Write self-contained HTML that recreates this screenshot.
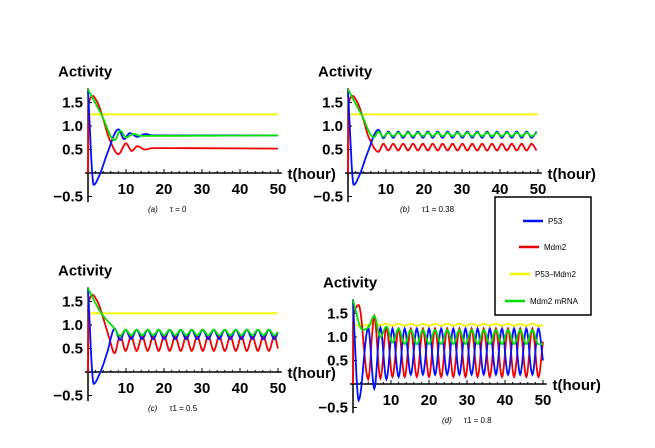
<!DOCTYPE html>
<html><head><meta charset="utf-8"><style>
body{margin:0;background:#fff;}
svg{display:block;font-family:"Liberation Sans",sans-serif;}
.tk{font-weight:bold;font-size:15px;}
</style></head><body>
<svg id="s" width="655" height="448"></svg>
<script>
// ---- data ----
const tickX=[10,20,30,40,50];
const tickY=[-0.5,0.5,1.0,1.5];
const tickYLabels=["\u22120.5","0.5","1.0","1.5"];
// transient shared shapes
const trBlueT=[0,1.5,3,5];
const trBlueV=[1.75,-0.25,-0.05,0.4];
const trRedT=[0,0.2,1.2,2.5,4,5.5];
const trRedV=[0,1.5,1.64,1.5,1.15,0.75];
const trGrnT=[0,3.5];
const trGrnV=[1.78,1.25];
// panel a
const aBlueT=[8,9.5,11,13,15,17,50];
const aBlueV=[0.93,0.72,0.85,0.77,0.83,0.8,0.8];
const aRedT=[8,10,11.5,13,15,17,50];
const aRedV=[0.4,0.63,0.47,0.57,0.5,0.53,0.52];
const aYelT=[0,0.3,50];
const aYelV=[1.75,1.25,1.25];
const aGrnT=[7,8.5,10,12,14,50];
const aGrnV=[0.7,0.9,0.76,0.83,0.79,0.8];
// panel b
const bOscT=[8,9.3,10.6,11.9,13.2,14.5,15.8,17.1,18.4,19.7,21,22.3,23.6,24.9,26.2,27.5,28.8,30.1,31.4,32.7,34,35.3,36.6,37.9,39.2,40.5,41.8,43.1,44.4,45.7,47,48.3,49.6];
const bBlueV=[0.92,0.74,0.88,0.75,0.88,0.75,0.88,0.75,0.88,0.75,0.88,0.75,0.88,0.75,0.88,0.75,0.88,0.75,0.88,0.75,0.88,0.75,0.88,0.75,0.88,0.75,0.88,0.75,0.88,0.75,0.88,0.75,0.88];
const bRedV=[0.45,0.62,0.48,0.62,0.48,0.62,0.48,0.62,0.48,0.62,0.48,0.62,0.48,0.62,0.48,0.62,0.48,0.62,0.48,0.62,0.48,0.62,0.48,0.62,0.48,0.62,0.48,0.62,0.48,0.62,0.48,0.62,0.48];
const bGrnV=[0.88,0.77,0.86,0.78,0.86,0.78,0.86,0.78,0.86,0.78,0.86,0.78,0.86,0.78,0.86,0.78,0.86,0.78,0.86,0.78,0.86,0.78,0.86,0.78,0.86,0.78,0.86,0.78,0.86,0.78,0.86,0.78,0.86];
// panel c
const cOscT=[7,8.45,9.9,11.35,12.8,14.25,15.7,17.15,18.6,20.05,21.5,22.95,24.4,25.85,27.3,28.75,30.2,31.65,33.1,34.55,36,37.45,38.9,40.35,41.8,43.25,44.7,46.15,47.6,49.05,50];
const cBlueV=[0.92,0.68,0.9,0.7,0.9,0.7,0.9,0.7,0.9,0.7,0.9,0.7,0.9,0.7,0.9,0.7,0.9,0.7,0.9,0.7,0.9,0.7,0.9,0.7,0.9,0.7,0.9,0.7,0.9,0.7,0.85];
const cRedV=[0.4,0.78,0.45,0.76,0.45,0.76,0.45,0.76,0.45,0.76,0.45,0.76,0.45,0.76,0.45,0.76,0.45,0.76,0.45,0.76,0.45,0.76,0.45,0.76,0.45,0.76,0.45,0.76,0.45,0.76,0.5];
const cGrnV=[0.92,0.76,0.9,0.78,0.9,0.78,0.9,0.78,0.9,0.78,0.9,0.78,0.9,0.78,0.9,0.78,0.9,0.78,0.9,0.78,0.9,0.78,0.9,0.78,0.9,0.78,0.9,0.78,0.9,0.78,0.85];
// panel d
const dOscT=[4,5.6,7.2,8.8,10.4,12,13.6,15.2,16.8,18.4,20,21.6,23.2,24.8,26.4,28,29.6,31.2,32.8,34.4,36,37.6,39.2,40.8,42.4,44,45.6,47.2,48.8,50];
const dBlueV=[1.2,-0.1,1.2,0.1,1.18,0.15,1.18,0.2,1.18,0.2,1.18,0.2,1.18,0.2,1.18,0.2,1.18,0.2,1.18,0.2,1.18,0.2,1.18,0.2,1.18,0.2,1.18,0.2,1.18,0.5];
const dRedV=[0.1,1.45,0.12,1.2,0.15,1.18,0.15,1.18,0.15,1.18,0.15,1.18,0.15,1.18,0.15,1.18,0.15,1.18,0.15,1.18,0.15,1.18,0.15,1.18,0.15,1.18,0.15,1.18,0.15,0.9];
const dGrnV=[1.2,1.45,1.0,1.22,0.88,1.18,0.85,1.15,0.85,1.15,0.85,1.15,0.85,1.15,0.85,1.15,0.85,1.15,0.85,1.15,0.85,1.15,0.85,1.15,0.85,1.15,0.85,1.15,0.85,0.85];
const dYelV=[1.25,1.3,1.25,1.28,1.24,1.28,1.24,1.28,1.24,1.28,1.24,1.28,1.24,1.28,1.24,1.28,1.24,1.28,1.24,1.28,1.24,1.28,1.24,1.28,1.24,1.28,1.24,1.28,1.24,1.25];

const NS="http://www.w3.org/2000/svg";
const svg=document.getElementById('s');
function mk(tag,attrs,parent){const e=document.createElementNS(NS,tag);for(const k in attrs)e.setAttribute(k,attrs[k]);(parent||svg).appendChild(e);return e;}
const SX=3.8,SY=47;
// monotone cubic Hermite (Fritsch-Carlson)
function pathFrom(T,V,xs,ys){
 const n=T.length,h=[],dl=[],m=new Array(n).fill(0);
 for(let i=0;i<n-1;i++){h[i]=T[i+1]-T[i];dl[i]=(V[i+1]-V[i])/h[i];}
 m[0]=dl[0];m[n-1]=dl[n-2];
 for(let i=1;i<n-1;i++){m[i]=(dl[i-1]*dl[i]<=0)?0:2/(1/dl[i-1]+1/dl[i]);}
 let d='M'+xs(T[0]).toFixed(1)+','+ys(V[0]).toFixed(1);
 for(let i=0;i<n-1;i++){for(let k=1;k<=10;k++){const s=k/10,s2=s*s,s3=s2*s;
  const v=(2*s3-3*s2+1)*V[i]+(s3-2*s2+s)*h[i]*m[i]+(-2*s3+3*s2)*V[i+1]+(s3-s2)*h[i]*m[i+1];
  d+=' L'+xs(T[i]+h[i]*s).toFixed(1)+','+ys(v).toFixed(1);}}
 return d;}
function panel(name,ox,oy,series,cap1,cap2,capx){
 const g=mk('g',{});
 
 
 const xs=t=>ox+t*SX, ys=v=>oy-v*SY;
 const at=mk('text',{x:ox-30,y:ys(2.1)+2,'font-size':15,'font-weight':'bold'},g);at.textContent='Activity';
 
 const ya=mk('line',{x1:ox,x2:ox,y1:ys(1.8),y2:ys(-0.62),stroke:'#000','stroke-width':1.5},g);
 
 const xa=mk('line',{x1:ox-3,x2:xs(51),y1:oy,y2:oy,stroke:'#000','stroke-width':1.5},g);
 
 for(let t=2;t<=50;t+=2){mk('line',{x1:xs(t),x2:xs(t),y1:oy,y2:oy-(t%10===0?4:2),stroke:'#000','stroke-width':1},g);}
 tickX.forEach(t=>{const e=mk('text',{x:xs(t),y:oy+21,'text-anchor':'middle',class:'tk'},g);e.textContent=t;
  });
 tickY.forEach((v,i)=>{mk('line',{x1:ox,x2:ox+4,y1:ys(v),y2:ys(v),stroke:'#000'},g);
  const e=mk('text',{x:ox-5,y:ys(v)+5,'text-anchor':'end',class:'tk'},g);e.textContent=tickYLabels[i];
  });
 const xt=mk('text',{x:xs(52.5),y:oy+6,'font-size':15,'font-weight':'bold'},g);xt.textContent='t(hour)';
 
 series.forEach(s=>{const p=mk('path',{d:pathFrom(s.t,s.v,xs,ys),fill:'none',stroke:s.c,'stroke-width':1.8},g);
  });
 const c=mk('text',{x:capx,y:oy+39,'font-size':8},g);c.innerHTML='<tspan font-style="italic">'+cap1+'</tspan><tspan dx="12">'+cap2+'</tspan>';
 
}
const Y='#f5f500',G='#00e000',R='#f00000',B='#0010ff';
panel('panel-a',88,173,[
 {t:aYelT,v:aYelV,c:Y,n:'p53-mdm2-line'},{t:trRedT.concat(aRedT),v:trRedV.concat(aRedV),c:R,n:'mdm2-line'},
 {t:trBlueT.concat(aBlueT),v:trBlueV.concat(aBlueV),c:B,n:'p53-line'},{t:trGrnT.concat(aGrnT),v:trGrnV.concat(aGrnV),c:G,n:'mdm2-mrna-line'}],'(a)','\u03c4 = 0',148);
panel('panel-b',348,173,[
 {t:aYelT,v:aYelV,c:Y,n:'p53-mdm2-line'},
 {t:trRedT.concat(bOscT),v:trRedV.concat(bRedV),c:R,n:'mdm2-line'},
 {t:trBlueT.concat(bOscT),v:trBlueV.concat(bBlueV),c:B,n:'p53-line'},
 {t:trGrnT.concat([6.8],bOscT),v:trGrnV.concat([0.76],bGrnV),c:G,n:'mdm2-mrna-line'}],'(b)','\u03c41 = 0.38',400);
panel('panel-c',88,372,[
 {t:aYelT,v:aYelV,c:Y,n:'p53-mdm2-line'},
 {t:trRedT.concat(cOscT),v:trRedV.concat(cRedV),c:R,n:'mdm2-line'},
 {t:trBlueT.concat(cOscT),v:trBlueV.concat(cBlueV),c:B,n:'p53-line'},
 {t:trGrnT.concat(cOscT),v:trGrnV.concat(cGrnV),c:G,n:'mdm2-mrna-line'}],'(c)','\u03c41 = 0.5',148);
panel('panel-d',353,384,[
 {t:[0,0.3].concat(dOscT),v:[1.75,1.25].concat(dYelV),c:Y,n:'p53-mdm2-line'},
 {t:[0,0.2,1.5].concat(dOscT),v:[0,1.5,1.68].concat(dRedV),c:R,n:'mdm2-line'},
 {t:[0,1.5].concat(dOscT),v:[1.75,-0.35].concat(dBlueV),c:B,n:'p53-line'},
 {t:[0,2.5].concat(dOscT),v:[1.78,1.15].concat(dGrnV),c:G,n:'mdm2-mrna-line'}],'(d)','\u03c41 = 0.8',442);
// legend
const lg=mk('g',{});


mk('rect',{x:495,y:197,width:96,height:118,fill:'#fff',stroke:'#000','stroke-width':1.5},lg);
[[523,221,B,'P53'],[519,247,R,'Mdm2'],[510,274,Y,'P53\u2013Mdm2'],[505,301,G,'Mdm2 mRNA']].forEach(e=>{
 const gg=mk('g',{},lg);
 
 
 mk('line',{x1:e[0],x2:e[0]+20,y1:e[1],y2:e[1],stroke:e[2],'stroke-width':2.5},gg);
 const t=mk('text',{x:e[0]+25,y:e[1]+3,'font-size':8},gg);t.textContent=e[3];});
</script>
</body></html>
